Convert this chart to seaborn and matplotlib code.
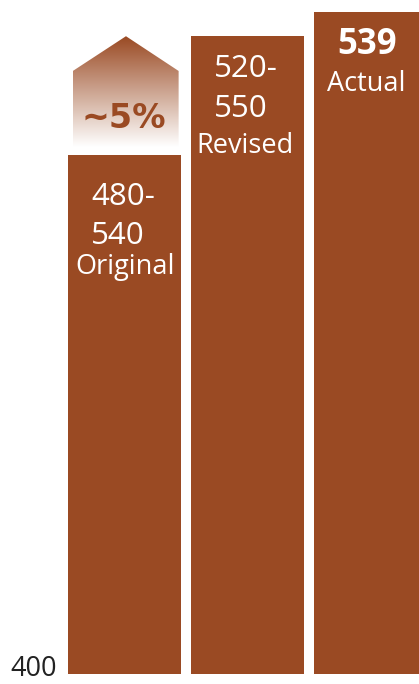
import numpy as np
import pandas as pd
import matplotlib
matplotlib.use("Agg")
import matplotlib.pyplot as plt
from matplotlib.patches import Polygon
from matplotlib.colors import to_rgb
import seaborn as sns

# ---- data ----
stages = ["Original", "Revised", "Actual"]
values = [509, 534, 539]
range_lines = [["480-", "540"], ["520-", "550"], []]
headline = ["", "", "539"]
arrow_from = 510.6
arrow_to = 533.9
arrow_label = "~5%"
baseline = 400

brown = "#9A4A23"

sns.set_style("white")
plt.rcParams["font.family"] = ["Open Sans", "DejaVu Sans"]

df = pd.DataFrame({"stage": stages, "value": values})

fig = plt.figure(figsize=(4.19, 6.84), dpi=100)
ax = fig.add_axes([62 / 419, 10 / 684, 357 / 419, 674 / 684])

sns.barplot(data=df, x="stage", y="value", color=brown, saturation=1,
            width=0.92, linewidth=0, ax=ax)

ax.set_xlim(-0.508, 2.394)
ax.set_ylim(baseline, 541.5)
ax.set_xlabel("")
ax.set_ylabel("")
ax.set_xticks([])
ax.set_yticks([])
sns.despine(ax=ax, left=True, bottom=True)

# baseline value label, sitting at the axis floor
ax.text(-5 / 357, baseline - 0.4, str(baseline), transform=ax.get_yaxis_transform(),
        ha="right", va="baseline", fontsize=19.5, color="#222222", clip_on=False)

# ---- gradient arrow above the first bar ----
xl, xr, xm = -0.42, 0.44, 0.012
shoulder = 526.6
arrow = Polygon([(xl, arrow_from), (xr, arrow_from), (xr, shoulder),
                 (xm, arrow_to), (xl, shoulder)], closed=True,
                facecolor="none", edgecolor="none")
ax.add_patch(arrow)
top_rgb = np.array(to_rgb(brown))
t = np.linspace(0, 1, 256)[:, None]  # 0 top -> 1 bottom
grad = top_rgb[None, :] * (1 - t) + np.ones(3)[None, :] * t
grad = np.repeat(grad[:, None, :], 2, axis=1)
im = ax.imshow(grad, extent=[xl, xr, arrow_from, arrow_to], aspect="auto",
               origin="upper", zorder=3, interpolation="bilinear")
im.set_clip_path(arrow)
ax.text(-0.004, 514.6, arrow_label, ha="center", va="baseline",
        fontsize=24, fontweight="bold", color=brown, zorder=4,
        family="DejaVu Sans")

# ---- bar labels ----
line_y = [[498.5, 490.3], [525.3, 516.9], []]
name_y = [484.0, 509.4, 522.4]
name_dx = [0.004, -0.024, -0.035]
for i, stage in enumerate(stages):
    for line, y in zip(range_lines[i], line_y[i]):
        ax.text(i - 0.27, y, line, ha="left", va="baseline",
                fontsize=22.5, color="white", zorder=4)
    if headline[i]:
        ax.text(i - 0.025, 530.2, headline[i], ha="center", va="baseline",
                fontsize=25, fontweight="bold", color="white", zorder=4)
    ax.text(i + name_dx[i], name_y[i], stage, ha="center", va="baseline",
            fontsize=19.5, color="white", zorder=4)

fig.savefig("out.png", dpi=100)
